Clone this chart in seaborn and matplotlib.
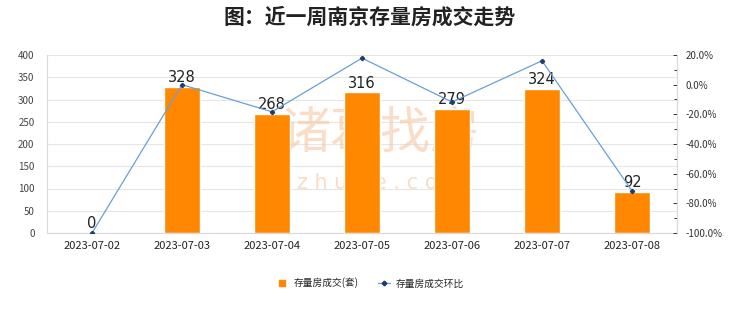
import matplotlib
matplotlib.use("Agg")
import matplotlib.pyplot as plt
import seaborn as sns
import numpy as np
import pandas as pd
from matplotlib.ticker import FuncFormatter, MultipleLocator
from matplotlib.lines import Line2D

dates = ["2023-07-02", "2023-07-03", "2023-07-04", "2023-07-05",
         "2023-07-06", "2023-07-07", "2023-07-08"]
deals = [0, 328, 268, 316, 279, 324, 92]
mom_pct = [-100.0, 0.0, -18.3, 17.9, -11.7, 16.1, -71.6]
bar_name = "存量房成交(套)"
line_name = "存量房成交环比"
title = "图：近一周南京存量房成交走势"

sns.set_theme(style="white")
plt.rcParams['font.family'] = ['Noto Sans CJK SC', 'DejaVu Sans']
plt.rcParams['axes.unicode_minus'] = False

df = pd.DataFrame({"date": dates, "deals": deals, "mom": mom_pct})

fig = plt.figure(figsize=(7.4, 3.12), dpi=100)
ax = fig.add_axes([47/740, 1-233/312, (677-47)/740, (233-55)/312])

grid_c = "#e6e6e6"
bar_c = "#FF8800"
line_c = "#6a9fd8"
mark_c = "#1f3b6b"

sns.barplot(data=df, x="date", y="deals", color=bar_c, width=0.4,
            saturation=1, ax=ax, zorder=2)
ax.set_ylim(0, 400)
ax.yaxis.set_major_locator(MultipleLocator(50))
ax.grid(axis="y", color=grid_c, linewidth=0.8, zorder=0)
ax.set_axisbelow(True)
ax.set_xlabel("")
ax.set_ylabel("")
ax.spines["top"].set_visible(False)
for s in ["left", "bottom", "right"]:
    ax.spines[s].set_color("#d9d9d9")
    ax.spines[s].set_linewidth(0.8)
ax.tick_params(axis="y", labelsize=7, colors="#444444", length=0, pad=9)
ax.tick_params(axis="x", labelsize=8, colors="#222222", length=0, pad=6)
ax.set_xlim(-0.5, len(dates) - 0.5)

for i, v in enumerate(deals):
    ax.text(i, v + 4, str(v), ha="center", va="bottom", fontsize=10.5,
            color="#222222", family="DejaVu Sans", zorder=4)

# watermark
ax.text(0.53, 0.56, "诸葛找房", transform=ax.transAxes, ha="center", va="center",
        fontsize=36, color="#f5c7a2", alpha=0.6, zorder=1)
ax.text(0.53, 0.28, "z h u g e . c o m", transform=ax.transAxes, ha="center",
        va="center", fontsize=15, color="#f5c7a2", alpha=0.6, zorder=1,
        family="DejaVu Sans")

ax2 = ax.twinx()
sns.lineplot(data=df, x="date", y="mom", ax=ax2, color=line_c, linewidth=0.9,
             marker="P", markersize=3, markerfacecolor=mark_c,
             markeredgecolor=mark_c, legend=False)
ax2.set_ylim(-100, 20)
ax2.yaxis.set_major_locator(MultipleLocator(20))
ax2.yaxis.set_minor_locator(MultipleLocator(10))
ax2.yaxis.set_major_formatter(FuncFormatter(lambda v, p: f"{v:.1f}%"))
ax2.tick_params(axis="y", which="both", direction="in", colors="#333333",
                labelsize=7, length=2.5, width=0.7, pad=6)
ax2.tick_params(axis="y", which="major", length=3)
ax2.set_ylabel("")
ax2.set_xlabel("")
for s in ["top", "left", "bottom"]:
    ax2.spines[s].set_visible(False)
ax2.spines["right"].set_color("#d9d9d9")
ax2.spines["right"].set_linewidth(0.8)
ax2.grid(False)

handles = [Line2D([], [], linestyle="none", marker="s", markersize=5,
                  color=bar_c),
           Line2D([], [], color=line_c, linewidth=0.9, marker="P",
                  markersize=3, markerfacecolor=mark_c,
                  markeredgecolor=mark_c)]
fig.legend(handles, [bar_name, line_name], loc="center",
           bbox_to_anchor=(0.5, 1-283/312), ncol=2, frameon=False,
           fontsize=7, handlelength=1.2, columnspacing=2.0, handletextpad=0.6)

fig.text(0.5, 1-17/312, title, ha="center", va="center", fontsize=15,
         fontweight="bold", color="#222222")

fig.savefig("out.png", dpi=100, facecolor="white")
